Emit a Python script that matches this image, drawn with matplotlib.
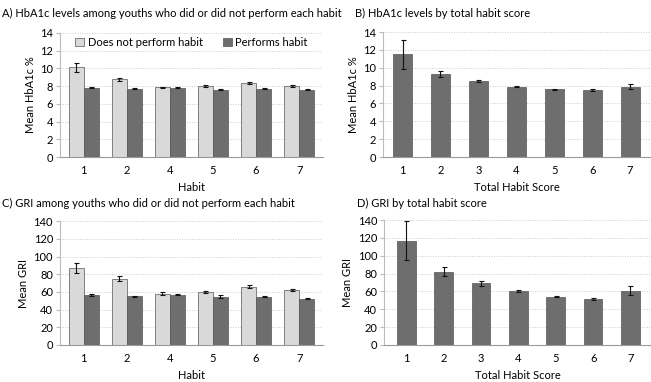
import numpy as np
import matplotlib.pyplot as plt

plt.rcParams['font.family'] = ['Lato', 'DejaVu Sans']

habits = ['1', '2', '4', '5', '6', '7']
scores = ['1', '2', '3', '4', '5', '6', '7']

# A) HbA1c by habit
hba1c_not = [10.1, 8.75, 7.85, 8.0, 8.35, 8.05]
hba1c_not_err = [0.55, 0.15, 0.1, 0.1, 0.15, 0.1]
hba1c_yes = [7.8, 7.7, 7.8, 7.6, 7.7, 7.6]
hba1c_yes_err = [0.05, 0.05, 0.05, 0.05, 0.05, 0.05]

# B) HbA1c by total score
hba1c_score = [11.5, 9.3, 8.5, 7.9, 7.6, 7.5, 7.9]
hba1c_score_err = [1.6, 0.3, 0.1, 0.07, 0.05, 0.07, 0.25]

# C) GRI by habit
gri_not = [87, 75, 58, 60, 66, 62]
gri_not_err = [6, 2.5, 1.5, 1.5, 1.5, 1.5]
gri_yes = [56.5, 55, 57, 54.5, 54.5, 52.5]
gri_yes_err = [0.6, 0.7, 0.5, 1.5, 0.8, 0.8]

# D) GRI by total score
gri_score = [117, 82, 69, 60.5, 54, 51.5, 61]
gri_score_err = [22, 5, 2.5, 1, 0.8, 1, 5]

LIGHT = '#d9d9d9'
DARK = '#6e6e6e'
EDGE = '#555555'
FS = 8


def style_axis(ax, ymax, step, ylabel, xlabel):
    ax.set_ylim(0, ymax)
    ax.set_yticks(np.arange(0, ymax + 1, step))
    ax.yaxis.grid(True, linestyle=(0, (1, 1.5)), color='#cccccc', linewidth=0.7)
    ax.set_axisbelow(True)
    for s in ['top', 'right']:
        ax.spines[s].set_visible(False)
    ax.spines['left'].set_color('#bbbbbb')
    ax.spines['bottom'].set_color('#999999')
    ax.tick_params(axis='y', length=3, color='#bbbbbb', labelsize=FS, pad=2)
    ax.tick_params(axis='x', length=0, labelsize=FS, pad=6)
    ax.set_ylabel(ylabel, fontsize=FS, labelpad=3)
    ax.set_xlabel(xlabel, fontsize=FS, labelpad=4)


fig = plt.figure(figsize=(6.51, 3.82), dpi=100)

err_kw = dict(ecolor='#111111', elinewidth=0.8, capsize=1.8, capthick=0.8)

# Panel A
axA = fig.add_axes([0.092, 0.589, 0.404, 0.325])
x = np.arange(len(habits))
w = 0.35
axA.bar(x - w / 2, hba1c_not, w, yerr=hba1c_not_err, color=LIGHT, edgecolor=EDGE,
        linewidth=0.5, error_kw=err_kw, label='Does not perform habit')
axA.bar(x + w / 2, hba1c_yes, w, yerr=hba1c_yes_err, color=DARK, edgecolor=EDGE,
        linewidth=0.5, error_kw=err_kw, label='Performs habit')
axA.set_xticks(x)
axA.set_xticklabels(habits)
axA.set_xlim(-0.55, len(habits) - 0.45)
style_axis(axA, 14, 2, 'Mean HbA1c %', 'Habit')
axA.legend(loc='upper center', ncol=2, frameon=True, fontsize=FS,
           bbox_to_anchor=(0.5, 1.03), handlelength=0.8, handleheight=0.8,
           handletextpad=0.3, columnspacing=1.8, edgecolor='none',
           facecolor='white', framealpha=1, borderpad=0.2)
fig.text(0.003, 0.965, 'A) HbA1c levels among youths who did or did not perform each habit',
         fontsize=FS, va='center')

# Panel B
axB = fig.add_axes([0.588, 0.589, 0.412, 0.327])
xs = np.arange(len(scores))
axB.bar(xs, hba1c_score, 0.5, yerr=hba1c_score_err, color=DARK, edgecolor=EDGE,
        linewidth=0.5, error_kw=err_kw)
axB.set_xticks(xs)
axB.set_xticklabels(scores)
axB.set_xlim(-0.52, len(scores) - 0.45)
style_axis(axB, 14, 2, 'Mean HbA1c %', 'Total Habit Score')
fig.text(0.545, 0.965, 'B) HbA1c levels by total habit score', fontsize=FS, va='center')

# Panel C
axC = fig.add_axes([0.092, 0.097, 0.404, 0.324])
axC.bar(x - w / 2, gri_not, w, yerr=gri_not_err, color=LIGHT, edgecolor=EDGE,
        linewidth=0.5, error_kw=err_kw)
axC.bar(x + w / 2, gri_yes, w, yerr=gri_yes_err, color=DARK, edgecolor=EDGE,
        linewidth=0.5, error_kw=err_kw)
axC.set_xticks(x)
axC.set_xticklabels(habits)
axC.set_xlim(-0.55, len(habits) - 0.45)
style_axis(axC, 140, 20, 'Mean GRI', 'Habit')
fig.text(0.003, 0.468, 'C) GRI among youths who did or did not perform each habit',
         fontsize=FS, va='center')

# Panel D
axD = fig.add_axes([0.590, 0.097, 0.410, 0.327])
axD.bar(xs, gri_score, 0.5, yerr=gri_score_err, color=DARK, edgecolor=EDGE,
        linewidth=0.5, error_kw=err_kw)
axD.set_xticks(xs)
axD.set_xticklabels(scores)
axD.set_xlim(-0.6, len(scores) - 0.45)
style_axis(axD, 140, 20, 'Mean GRI', 'Total Habit Score')
fig.text(0.548, 0.468, 'D) GRI by total habit score', fontsize=FS, va='center')

fig.savefig('out.png', dpi=100)
